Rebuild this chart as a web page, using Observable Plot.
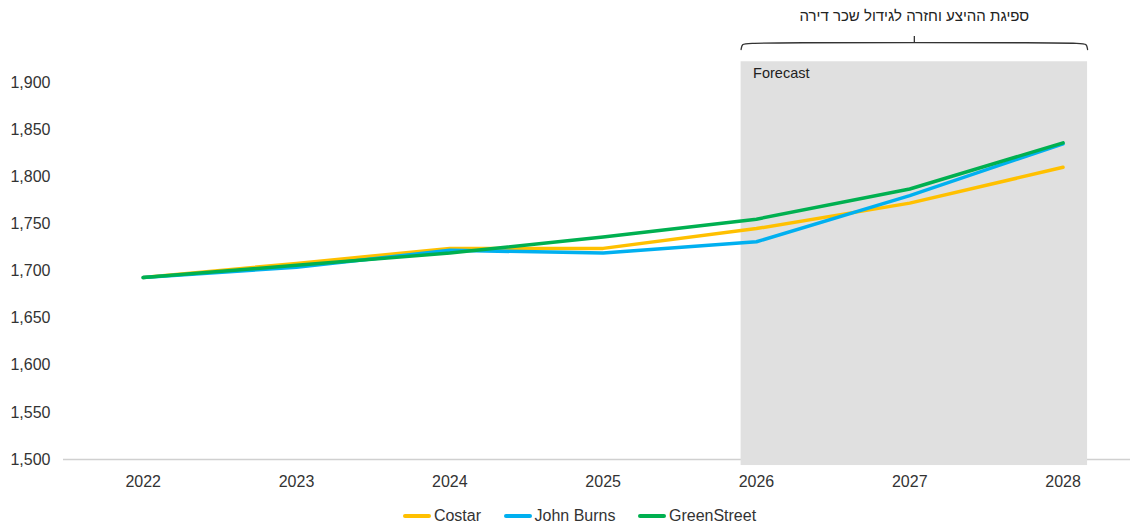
<!DOCTYPE html>
<html>
<head>
<meta charset="utf-8">
<script src="https://cdn.jsdelivr.net/npm/d3@7"></script>
<script src="https://cdn.jsdelivr.net/npm/@observablehq/plot@0.6"></script>
<style>
  html, body { margin: 0; padding: 0; background: #fff; }
  body { width: 1132px; font-family: "Liberation Sans", Arial, sans-serif; }
  #legend { height: 42px; display: flex; justify-content: center; align-items: center; gap: 22.5px; padding-left: 27px; font-size: 16px; color: #333; }
  .item { display: flex; align-items: center; gap: 3px; }
  .sw { width: 28px; height: 3.5px; border-radius: 2px; }
</style>
</head>
<body>
<div id="chart"></div>
<div id="legend"></div>
<script>
const years = [2022, 2023, 2024, 2025, 2026, 2027, 2028];
const costar = [1693, 1708, 1724, 1724, 1745, 1772, 1810];
const johnBurns = [1693, 1704, 1722, 1719, 1731, 1780, 1835];
const greenStreet = [1693, 1706, 1719, 1736, 1755, 1787, 1836];
const seriesNames = ["Costar", "John Burns", "GreenStreet"];
const seriesColors = ["#FFC000", "#00B0F0", "#00B050"];
const yTicks = [1500, 1550, 1600, 1650, 1700, 1750, 1800, 1850, 1900];
const forecastStart = 2025.9, forecastEnd = 2028.16;
const forecastLabel = "Forecast";
const annotation = "ספיגת ההיצע וחזרה לגידול שכר דירה";

const seriesValues = [costar, johnBurns, greenStreet];
const rows = [];
seriesNames.forEach((name, i) => years.forEach((yr, j) => rows.push({series: name, year: yr, value: seriesValues[i][j]})));

const midX = (forecastStart + forecastEnd) / 2;
const bracket = [
  {x: forecastStart, y: 1935},
  {x: forecastStart + 0.005, y: 1941},
  {x: forecastStart + 0.05, y: 1942.4},
  {x: forecastEnd - 0.05, y: 1942.4},
  {x: forecastEnd - 0.005, y: 1941},
  {x: forecastEnd, y: 1935}
];

const chart = Plot.plot({
  width: 1132,
  height: 495,
  marginLeft: 63,
  marginRight: 2,
  marginTop: 82,
  marginBottom: 36,
  style: {fontFamily: "'Liberation Sans', Arial, sans-serif", fontSize: "16px", color: "#333", background: "#fff"},
  x: {domain: [2021.48, 2028.44], ticks: years, tickFormat: d => String(d), tickSize: 0, tickPadding: 16, label: null},
  y: {domain: [1500, 1900], ticks: yTicks, tickFormat: d3.format(","), tickSize: 0, tickPadding: 13, label: null},
  color: {domain: seriesNames, range: seriesColors},
  marks: [
    Plot.ruleY([1500], {x1: 2021.48, x2: 2028.44, stroke: "#d0d0d0", strokeWidth: 1.5}),
    Plot.rectY([{x1: forecastStart, x2: forecastEnd}], {x1: "x1", x2: "x2", y1: 1493.6, y2: 1922, fill: "#e0e0e0"}),
    Plot.text([forecastLabel], {x: forecastStart, y: 1909.5, text: d => d, textAnchor: "start", dx: 12, fontSize: 14.5, fill: "#222"}),
    Plot.line(bracket, {x: "x", y: "y", stroke: "#333", strokeWidth: 1.3, curve: "basis"}),
    Plot.ruleX([midX], {y1: 1942.4, y2: 1948.8, stroke: "#333", strokeWidth: 1.3}),
    Plot.text([annotation], {x: midX, y: 1970, text: d => d, fontSize: 15, fill: "#222", textAnchor: "middle"}),
    Plot.line(rows, {x: "year", y: "value", z: "series", stroke: "series", strokeWidth: 3.5, strokeLinecap: "round", strokeLinejoin: "round"})
  ]
});
document.getElementById("chart").appendChild(chart);

const legend = document.getElementById("legend");
seriesNames.forEach((n, i) => {
  const it = document.createElement("div");
  it.className = "item";
  it.innerHTML = `<span class="sw" style="background:${seriesColors[i]}"></span><span>${n}</span>`;
  legend.appendChild(it);
});
</script>
</body>
</html>
